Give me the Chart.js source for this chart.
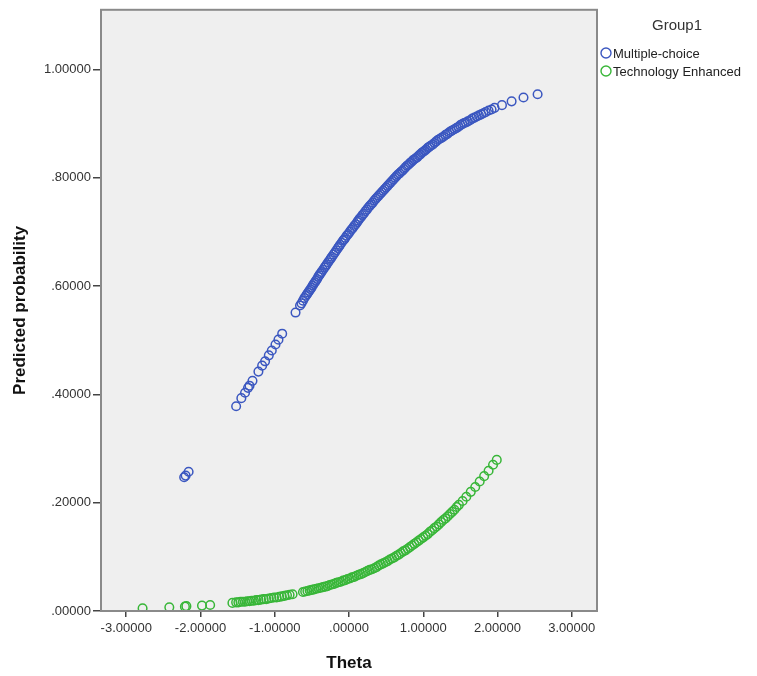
<!DOCTYPE html>
<html>
<head>
<meta charset="utf-8">
<script src="https://cdn.jsdelivr.net/npm/chart.js@4.4.0/dist/chart.umd.min.js"></script>
<style>
  body { margin: 0; background: #fff; }
  #wrap { width: 757px; height: 676px; }
</style>
</head>
<body>
<div id="wrap"><canvas id="chart" width="757" height="676"></canvas></div>
<script>
// ---- data ----
const groupTitle = 'Group1';
const seriesNames = ['Multiple-choice', 'Technology Enhanced'];
const xTicks = [-3, -2, -1, 0, 1, 2, 3];
const yTicks = [0, 0.2, 0.4, 0.6, 0.8, 1.0];

const thetaMC = [-2.22, -2.20, -2.16, -1.52, -1.45, -1.40, -1.36, -1.34, -1.30, -1.22, -1.17, -1.13, -1.08, -1.04, -0.99, -0.95, -0.90,
  -0.72, -0.66, -0.62, -0.58, -0.55, -0.52, -0.49, -0.46, -0.43, -0.40, -0.37, -0.33, -0.30, -0.26, -0.23, -0.19, -0.15, -0.12, -0.08, -0.05, -0.01,
  0.03, 0.07, 0.11, 0.14, 0.18, 0.22, 0.26, 0.30, 0.34, 0.38, 0.42, 0.46, 0.50, 0.54, 0.58, 0.62, 0.66, 0.70, 0.74, 0.78, 0.82, 0.86, 0.90, 0.94, 0.98,
  1.02, 1.06, 1.10, 1.15, 1.20, 1.25, 1.30, 1.35, 1.40, 1.45, 1.50, 1.55, 1.60, 1.66, 1.72, 1.78, 1.84, 1.88, 1.92, 1.96, 2.06, 2.19, 2.35, 2.54,
  -0.64, -0.60, -0.565, -0.535, -0.505, -0.475, -0.445, -0.415, -0.385, -0.35, -0.315, -0.28, -0.245, -0.21, -0.17, -0.135, -0.10, -0.065, -0.03,
  0.01, 0.05, 0.09, 0.125, 0.16, 0.20, 0.24, 0.28, 0.32, 0.36, 0.40, 0.44, 0.48, 0.52, 0.56, 0.60, 0.64, 0.68, 0.72, 0.76, 0.80, 0.84, 0.88, 0.92, 0.96,
  1.00, 1.04, 1.08, 1.125, 1.175, 1.225, 1.275, 1.325, 1.375, 1.425, 1.475, 1.525, 1.575, 1.63, 1.69, 1.75, 1.81];
const probMC = [0.247, 0.250, 0.257, 0.378, 0.393, 0.403, 0.412, 0.416, 0.425, 0.442, 0.453, 0.461, 0.472, 0.481, 0.492, 0.501, 0.512,
  0.551, 0.564, 0.573, 0.582, 0.588, 0.594, 0.601, 0.607, 0.613, 0.620, 0.626, 0.634, 0.640, 0.648, 0.654, 0.662, 0.670, 0.676, 0.684, 0.689, 0.696,
  0.704, 0.711, 0.718, 0.724, 0.731, 0.738, 0.745, 0.751, 0.758, 0.764, 0.770, 0.776, 0.782, 0.788, 0.794, 0.800, 0.806, 0.811, 0.816, 0.822, 0.827, 0.832, 0.836, 0.841, 0.846,
  0.850, 0.855, 0.859, 0.864, 0.870, 0.874, 0.879, 0.884, 0.888, 0.892, 0.897, 0.901, 0.904, 0.909, 0.913, 0.917, 0.921, 0.924, 0.926, 0.929, 0.934, 0.941, 0.948, 0.954,
  0.568, 0.578, 0.585, 0.591, 0.597, 0.604, 0.610, 0.617, 0.623, 0.630, 0.637, 0.644, 0.651, 0.658, 0.666, 0.673, 0.680, 0.686, 0.693,
  0.700, 0.707, 0.714, 0.721, 0.727, 0.734, 0.741, 0.748, 0.754, 0.761, 0.767, 0.773, 0.779, 0.785, 0.791, 0.797, 0.803, 0.808, 0.813, 0.819, 0.824, 0.829, 0.834, 0.838, 0.843,
  0.848, 0.852, 0.857, 0.861, 0.867, 0.872, 0.876, 0.881, 0.886, 0.890, 0.894, 0.899, 0.902, 0.906, 0.911, 0.915, 0.919];

const thetaTE = [-2.78, -2.42, -2.21, -2.19, -1.98, -1.87, -1.57, -1.52, -1.46, -1.40, -1.34, -1.28, -1.22, -1.15, -1.08, -1.01, -0.94, -0.87, -0.80, -0.76,
  -0.62, -0.56, -0.50, -0.44, -0.38, -0.32, -0.26, -0.20, -0.14, -0.08, -0.02, 0.04, 0.10, 0.16, 0.22, 0.28, 0.34, 0.40, 0.46, 0.52, 0.58, 0.64, 0.70,
  0.76, 0.82, 0.88, 0.94, 1.00, 1.06, 1.12, 1.18, 1.24, 1.30, 1.36, 1.42, 1.48, 1.53, 1.58, 1.64, 1.70, 1.76, 1.82, 1.88, 1.94, 1.99,
  -1.49, -1.43, -1.37, -1.31, -1.25, -1.185, -1.115, -1.045, -0.975, -0.905, -0.835, -0.59, -0.53, -0.47, -0.41, -0.35, -0.29, -0.23, -0.17, -0.11, -0.05,
  0.01, 0.07, 0.13, 0.19, 0.25, 0.31, 0.37, 0.43, 0.49, 0.55, 0.61, 0.67, 0.73, 0.79, 0.85, 0.91, 0.97, 1.03, 1.09, 1.15, 1.21, 1.27, 1.33, 1.39, 1.45];
const probTE = [0.005, 0.007, 0.008, 0.009, 0.010, 0.011, 0.015, 0.016, 0.017, 0.017, 0.018, 0.019, 0.020, 0.022, 0.023, 0.025, 0.026, 0.028, 0.030, 0.031,
  0.035, 0.037, 0.039, 0.041, 0.043, 0.045, 0.048, 0.050, 0.053, 0.056, 0.059, 0.062, 0.065, 0.068, 0.072, 0.076, 0.079, 0.084, 0.088, 0.092, 0.097, 0.102, 0.107,
  0.112, 0.118, 0.124, 0.130, 0.136, 0.142, 0.149, 0.156, 0.164, 0.171, 0.179, 0.187, 0.196, 0.203, 0.211, 0.220, 0.229, 0.239, 0.249, 0.259, 0.270, 0.279,
  0.016, 0.017, 0.018, 0.019, 0.020, 0.021, 0.022, 0.024, 0.025, 0.027, 0.029, 0.036, 0.038, 0.040, 0.042, 0.044, 0.046, 0.049, 0.052, 0.054, 0.057,
  0.060, 0.063, 0.067, 0.070, 0.074, 0.077, 0.081, 0.086, 0.090, 0.095, 0.099, 0.104, 0.110, 0.115, 0.121, 0.127, 0.133, 0.139, 0.146, 0.153, 0.160, 0.168, 0.175, 0.183, 0.192];

const colMC = '#3b57c0';
const colTE = '#38b638';
const FONT = '"Liberation Sans", Arial, sans-serif';

const toPoints = (xs, ys) => xs.map((x, i) => ({ x: x, y: ys[i] }));

// decimals like SPSS: ".80000", "1.00000", "-3.00000"
const spssFmt = v => {
    let s = Math.abs(v).toFixed(5);
    if (s.startsWith('0')) s = s.substring(1);
    return (v < 0 ? '-' : '') + s;
};

// grey plot background + frame
const plotFrame = {
    id: 'plotFrame',
    beforeDraw(chart) {
        const { ctx, chartArea: a } = chart;
        ctx.save();
        ctx.fillStyle = '#efefef';
        ctx.fillRect(a.left, a.top, a.right - a.left, a.bottom - a.top);
        ctx.restore();
    },
    afterDraw(chart) {
        const { ctx, chartArea: a } = chart;
        ctx.save();
        ctx.strokeStyle = '#8a8a8a';
        ctx.lineWidth = 2;
        ctx.strokeRect(a.left, a.top, a.right - a.left, a.bottom - a.top);
        ctx.restore();
    }
};

// legend on the right, SPSS style
const groupLegend = {
    id: 'groupLegend',
    afterDraw(chart) {
        const ctx = chart.ctx;
        ctx.save();
        ctx.fillStyle = '#333';
        ctx.font = '15px ' + FONT;
        ctx.textAlign = 'center';
        ctx.textBaseline = 'middle';
        ctx.fillText(groupTitle, 677, 26);
        ctx.font = '13px ' + FONT;
        ctx.textAlign = 'left';
        chart.data.datasets.forEach((ds, i) => {
            const y = 53 + i * 18;
            ctx.beginPath();
            ctx.arc(606, y, 5, 0, Math.PI * 2);
            ctx.strokeStyle = ds.borderColor;
            ctx.lineWidth = 1.4;
            ctx.stroke();
            ctx.fillStyle = '#222';
            ctx.fillText(ds.label, 613, y + 1);
        });
        ctx.restore();
    }
};

const ctx = document.getElementById('chart').getContext('2d');
const myChart = new Chart(ctx, {
    type: 'scatter',
    data: {
        datasets: [
            {
                label: seriesNames[0],
                data: toPoints(thetaMC, probMC),
                borderColor: colMC,
                backgroundColor: 'rgba(0,0,0,0)',
                pointRadius: 4.3,
                borderWidth: 1.5
            },
            {
                label: seriesNames[1],
                data: toPoints(thetaTE, probTE),
                borderColor: colTE,
                backgroundColor: 'rgba(0,0,0,0)',
                pointRadius: 4.3,
                borderWidth: 1.5
            }
        ]
    },
    options: {
        responsive: false,
        animation: false,
        layout: { padding: { left: 0, top: 7, right: 160, bottom: 0 } },
        plugins: {
            legend: { display: false },
            tooltip: { enabled: false }
        },
        scales: {
            x: {
                type: 'linear',
                min: -3.34,
                max: 3.34,
                afterBuildTicks: scale => { scale.ticks = xTicks.map(v => ({ value: v })); },
                afterFit: scale => { scale.height = 65; },
                grid: { drawOnChartArea: false, drawTicks: true, tickLength: 6, color: '#444', lineWidth: 1.5 },
                border: { display: false },
                ticks: {
                    callback: v => spssFmt(v),
                    color: '#333',
                    padding: 4,
                    maxRotation: 0,
                    font: { family: FONT, size: 13 }
                },
                title: {
                    display: true,
                    text: 'Theta',
                    color: '#111',
                    padding: { top: 0, bottom: 2 },
                    font: { family: FONT, size: 17, weight: 'bold' }
                }
            },
            y: {
                type: 'linear',
                min: 0,
                max: 1.11,
                afterBuildTicks: scale => { scale.ticks = yTicks.map(v => ({ value: v })); },
                afterFit: scale => { scale.width = 101; },
                grid: { drawOnChartArea: false, drawTicks: true, tickLength: 8, color: '#444', lineWidth: 1.5 },
                border: { display: false },
                ticks: {
                    callback: v => spssFmt(v),
                    color: '#333',
                    padding: 2,
                    font: { family: FONT, size: 13 }
                },
                title: {
                    display: true,
                    text: 'Predicted probability',
                    color: '#111',
                    padding: { top: 10, bottom: 0 },
                    font: { family: FONT, size: 17, weight: 'bold' }
                }
            }
        }
    },
    plugins: [plotFrame, groupLegend]
});
</script>
</body>
</html>
